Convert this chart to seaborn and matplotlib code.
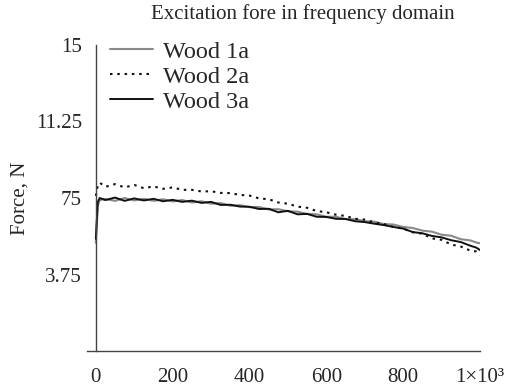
import matplotlib
matplotlib.use("Agg")
import matplotlib.pyplot as plt
import seaborn as sns
import pandas as pd

freq = [0, 5, 10, 25, 50, 75, 100, 125, 150, 175, 200, 225, 250, 275, 300, 325, 350, 375,
        400, 425, 450, 475, 500, 525, 550, 575, 600, 625, 650, 675, 700, 725, 750, 775,
        800, 825, 850, 875, 900, 925, 950, 975, 990, 1000]

wood_1a = [5.3, 7.1, 7.4, 7.45, 7.36, 7.5, 7.38, 7.46, 7.36, 7.44, 7.33, 7.4, 7.28, 7.34,
           7.22, 7.25, 7.12, 7.15, 7.05, 7.06, 6.94, 6.95, 6.85, 6.83, 6.72, 6.7, 6.58, 6.58,
           6.47, 6.46, 6.36, 6.34, 6.22, 6.2, 6.08, 6.03, 5.9, 5.85, 5.7, 5.65, 5.48, 5.42,
           5.32, 5.28]
wood_2a = [7.6, 8.1, 8.25, 8.05, 8.18, 8.02, 8.14, 7.98, 8.07, 7.95, 8.02, 7.9, 7.9, 7.82,
           7.83, 7.75, 7.74, 7.65, 7.62, 7.48, 7.44, 7.28, 7.22, 7.08, 7.02, 6.86, 6.8, 6.68,
           6.62, 6.48, 6.44, 6.3, 6.22, 6.08, 6.0, 5.82, 5.75, 5.52, 5.45, 5.22, 5.12, 4.92,
           4.88, 4.7]
wood_3a = [5.5, 7.3, 7.5, 7.4, 7.52, 7.36, 7.48, 7.38, 7.46, 7.34, 7.41, 7.31, 7.37, 7.26,
           7.31, 7.16, 7.17, 7.08, 7.07, 6.96, 6.97, 6.8, 6.87, 6.7, 6.72, 6.58, 6.57, 6.48,
           6.47, 6.36, 6.32, 6.24, 6.17, 6.08, 6.0, 5.83, 5.77, 5.64, 5.57, 5.43, 5.34, 5.16,
           5.07, 4.95]

series_names = ["Wood 1a", "Wood 2a", "Wood 3a"]
x_ticks = [0, 200, 400, 600, 800, 1000]
x_tick_labels = ["0", "200", "400", "600", "800", "1×10³"]
y_ticks = [3.75, 7.5, 11.25, 15]
y_tick_labels = ["3.75", "75", "11.25", "15"]

sns.set_style("white")
plt.rcParams["font.family"] = ["Liberation Serif", "DejaVu Serif"]
plt.rcParams["font.size"] = 15

fig = plt.figure(figsize=(5.11, 3.88), dpi=100)
ax = fig.add_axes([87/511, 37/388, (480-87)/511, (351-45)/388])

styles = [dict(color="#8a8a8a", linestyle="-", linewidth=1.5),
          dict(color="#111111", linestyle=(0, (1.2, 2.3)), linewidth=1.5),
          dict(color="#111111", linestyle="-", linewidth=1.4)]
for name, vals, st in zip(series_names, [wood_1a, wood_2a, wood_3a], styles):
    df = pd.DataFrame({"f": freq, "F": vals})
    sns.lineplot(data=df, x="f", y="F", ax=ax, label=name, **st)

ax.set_xlim(-23, 1000)
ax.set_ylim(0, 15)
ax.spines["left"].set_position(("data", 0))
ax.spines["right"].set_visible(False)
ax.spines["top"].set_visible(False)
for s in ["left", "bottom"]:
    ax.spines[s].set_color("#444444")
    ax.spines[s].set_linewidth(1.0)

ax.set_xticks(x_ticks)
ax.set_xticklabels(x_tick_labels)
ax.set_yticks(y_ticks)
ax.set_yticklabels(y_tick_labels)
ax.tick_params(axis="x", direction="in", length=9, width=1, color="#444444", pad=12, labelsize=15)
ax.tick_params(axis="y", direction="out", length=7, width=1, color="#444444", pad=3, labelsize=15)
ax.set_xlabel("")
ax.set_ylabel("Force, N", fontsize=15)
ax.yaxis.set_label_coords(-0.145, 0.5)

fig.text(303/511, 1 - 14/388, "Excitation fore in frequency domain", ha="center", va="center",
         fontsize=15)

leg = ax.legend(loc="upper left", bbox_to_anchor=(0.035, 1.045), frameon=False,
                handlelength=1.75, handletextpad=0.4, labelspacing=0.12, fontsize=17.5,
                borderaxespad=0)

fig.savefig("out.png", dpi=100)
